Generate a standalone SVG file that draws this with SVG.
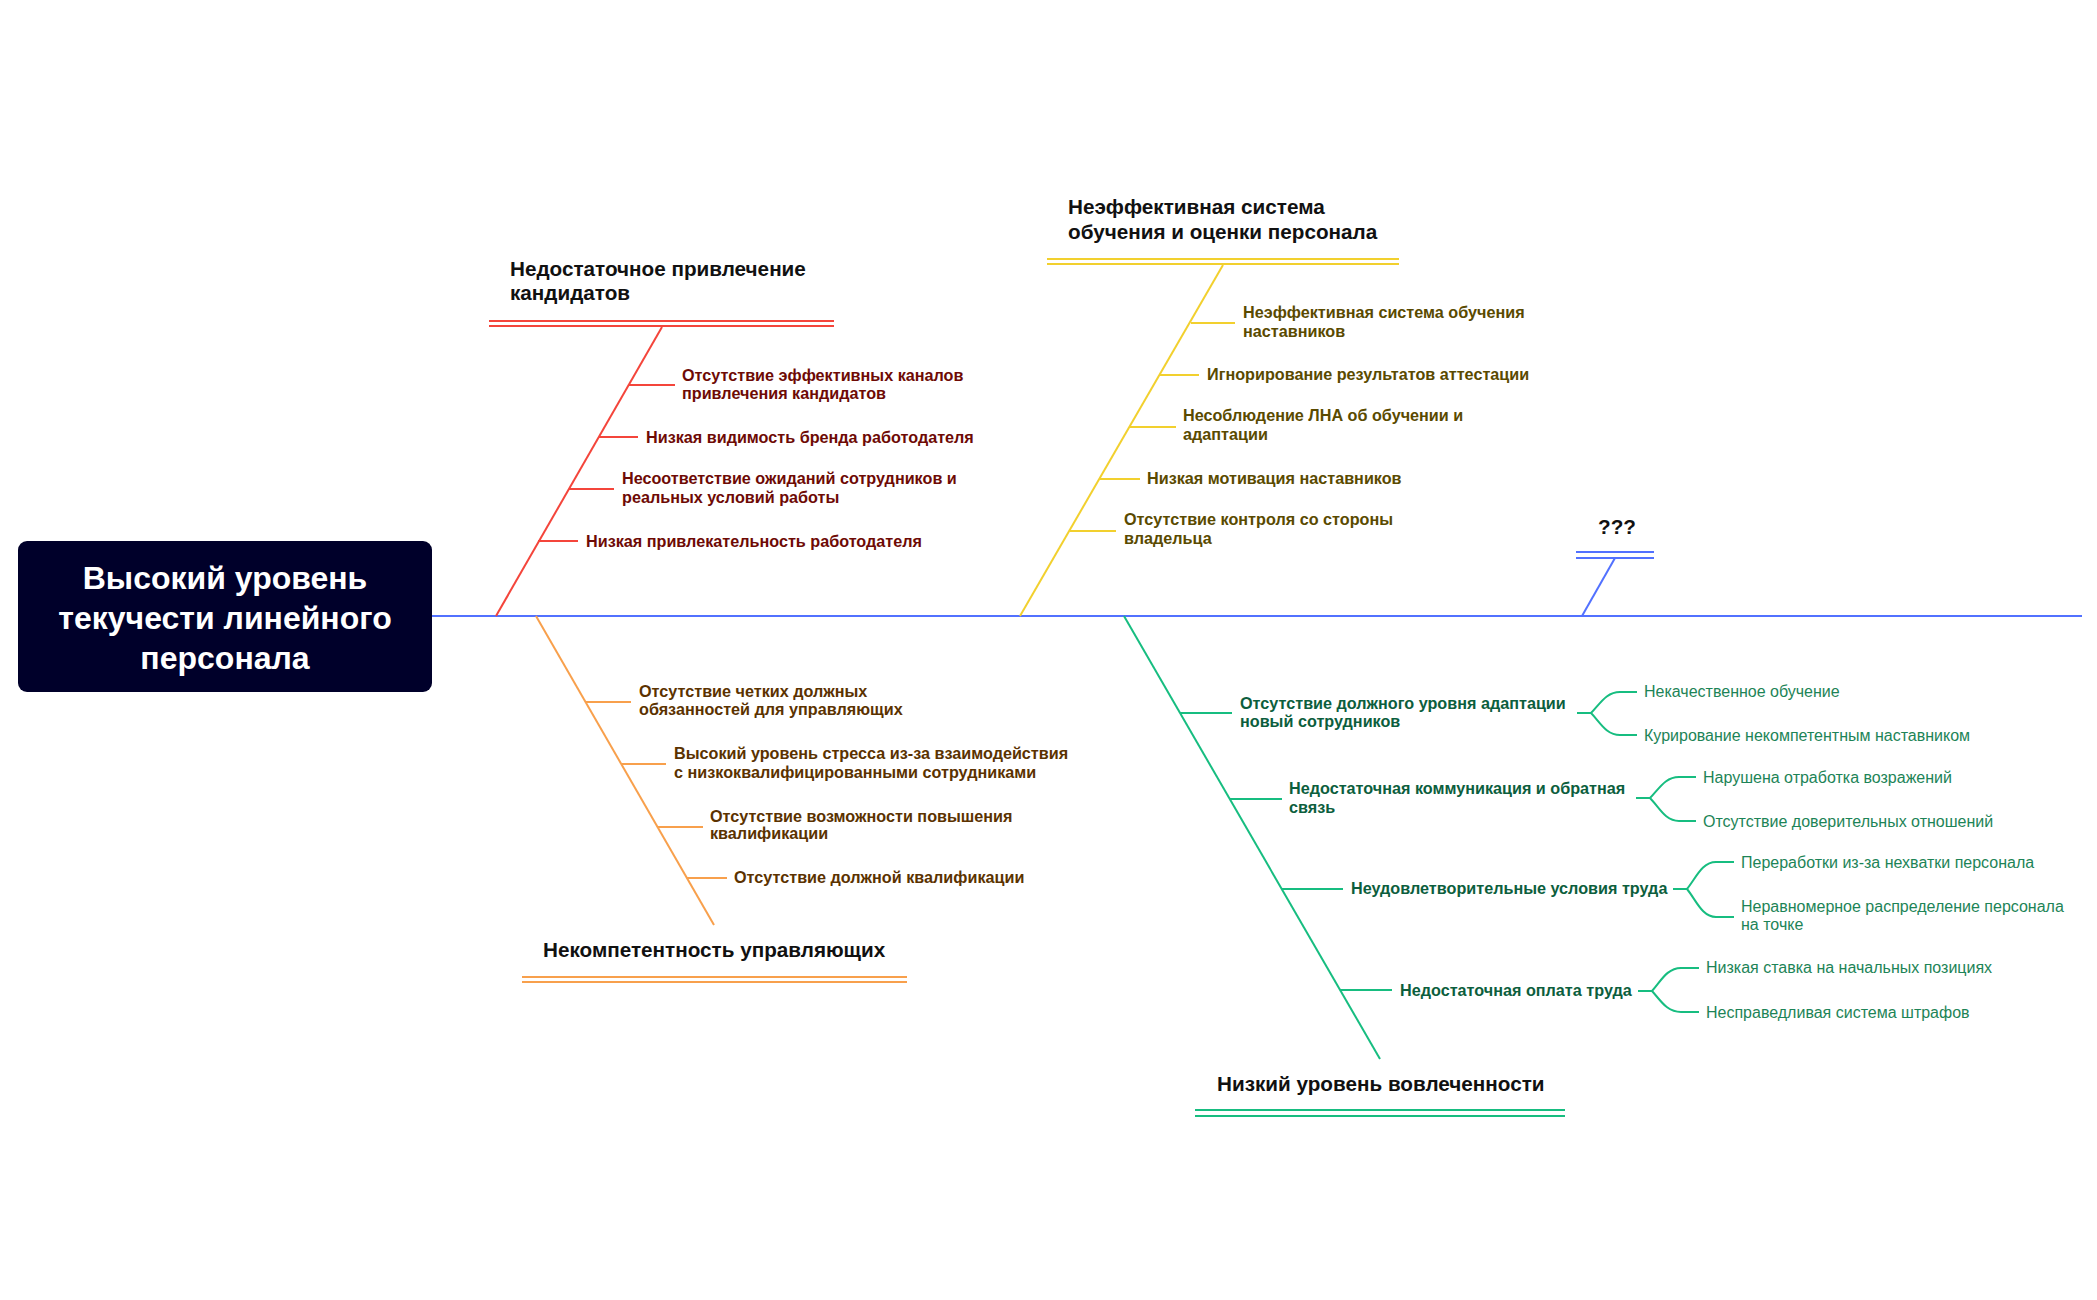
<svg xmlns="http://www.w3.org/2000/svg" width="2097" height="1300" viewBox="0 0 2097 1300">
<style>
text{font-family:"Liberation Sans",Arial,sans-serif}
.root{font-size:32px;font-weight:bold;fill:#fff;text-anchor:middle}
.title{font-size:20.7px;font-weight:bold;fill:#111}
.sub{font-size:16.2px;font-weight:bold}
.leaf{font-size:16px;fill:#1d8457}
.r{fill:#6e0a05}.y{fill:#5a4a00}.o{fill:#5b3200}.g{fill:#0c5e3d}
.ln{fill:none;stroke-width:2;stroke-linecap:butt}
.sr{stroke:#f4453b}.sy{stroke:#f2d02e}.so{stroke:#f8a04c}.sg{stroke:#17bd80}.sb{stroke:#5271ff}
</style>
<rect width="2097" height="1300" fill="#fff"/>
<g id="connectors">
<line class="ln sb" x1="432" y1="616" x2="2082" y2="616" stroke-width="3"/>
<!-- red -->
<line class="ln sr" x1="662" y1="327" x2="496" y2="616"/>
<line class="ln sr" x1="489" y1="321" x2="834" y2="321"/>
<line class="ln sr" x1="489" y1="326" x2="834" y2="326"/>
<line class="ln sr" x1="629" y1="385" x2="675" y2="385"/>
<line class="ln sr" x1="599" y1="437" x2="638" y2="437"/>
<line class="ln sr" x1="569" y1="489" x2="614" y2="489"/>
<line class="ln sr" x1="538" y1="541" x2="578" y2="541"/>
<!-- yellow -->
<line class="ln sy" x1="1223" y1="265" x2="1020" y2="616"/>
<line class="ln sy" x1="1047" y1="259" x2="1399" y2="259"/>
<line class="ln sy" x1="1047" y1="264" x2="1399" y2="264"/>
<line class="ln sy" x1="1191" y1="323" x2="1235" y2="323"/>
<line class="ln sy" x1="1160" y1="375" x2="1199" y2="375"/>
<line class="ln sy" x1="1130" y1="427" x2="1176" y2="427"/>
<line class="ln sy" x1="1100" y1="479" x2="1140" y2="479"/>
<line class="ln sy" x1="1070" y1="531" x2="1116" y2="531"/>
<!-- orange -->
<line class="ln so" x1="536" y1="616" x2="714" y2="925"/>
<line class="ln so" x1="522" y1="977" x2="907" y2="977"/>
<line class="ln so" x1="522" y1="982" x2="907" y2="982"/>
<line class="ln so" x1="586" y1="702" x2="631" y2="702"/>
<line class="ln so" x1="622" y1="764" x2="666" y2="764"/>
<line class="ln so" x1="657" y1="827" x2="703" y2="827"/>
<line class="ln so" x1="687" y1="878" x2="727" y2="878"/>
<!-- green -->
<line class="ln sg" x1="1124" y1="616" x2="1380" y2="1059"/>
<line class="ln sg" x1="1195" y1="1110" x2="1565" y2="1110"/>
<line class="ln sg" x1="1195" y1="1116" x2="1565" y2="1116"/>
<line class="ln sg" x1="1180" y1="713" x2="1232" y2="713"/>
<line class="ln sg" x1="1230" y1="799" x2="1282" y2="799"/>
<line class="ln sg" x1="1282" y1="889" x2="1343" y2="889"/>
<line class="ln sg" x1="1340" y1="990" x2="1392" y2="990"/>
<path class="ln sg" d="M1577,713 H1591" stroke-width="3"/>
<path class="ln sg" d="M1591,713 C1600,704 1606,692 1620,692 H1637 M1591,713 C1600,722 1606,735 1620,735 H1637"/>
<path class="ln sg" d="M1636,798 H1650" stroke-width="3"/>
<path class="ln sg" d="M1650,798 C1659,789 1665,777 1679,777 H1696 M1650,798 C1659,807 1665,821 1679,821 H1696"/>
<path class="ln sg" d="M1673,889 H1687" stroke-width="3"/>
<path class="ln sg" d="M1687,889 C1696,878 1702,862 1716,862 H1734 M1687,889 C1696,900 1702,917 1716,917 H1734"/>
<path class="ln sg" d="M1638,991 H1652" stroke-width="3"/>
<path class="ln sg" d="M1652,991 C1661,981 1667,968 1681,968 H1699 M1652,991 C1661,1001 1667,1012 1681,1012 H1699"/>
<!-- blue -->
<line class="ln sb" x1="1615" y1="558" x2="1582" y2="616"/>
<line class="ln sb" x1="1576" y1="552" x2="1654" y2="552"/>
<line class="ln sb" x1="1576" y1="558" x2="1654" y2="558"/>
</g>
<g id="root">
<rect x="18" y="541" width="414" height="151" rx="9" fill="#00002a"/>
<text class="root" x="225" y="589">Высокий уровень</text>
<text class="root" x="225" y="629">текучести линейного</text>
<text class="root" x="225" y="669">персонала</text>
</g>
<g id="cat-attraction">
<text class="title" x="510" y="276">Недостаточное привлечение</text>
<text class="title" x="510" y="300">кандидатов</text>
</g>
<g id="r1"><text class="sub r" x="682" y="381">Отсутствие эффективных каналов</text><text class="sub r" x="682" y="399">привлечения кандидатов</text></g>
<g id="r2"><text class="sub r" x="646" y="443">Низкая видимость бренда работодателя</text></g>
<g id="r3"><text class="sub r" x="622" y="484">Несоответствие ожиданий сотрудников и</text><text class="sub r" x="622" y="503">реальных условий работы</text></g>
<g id="r4"><text class="sub r" x="586" y="547">Низкая привлекательность работодателя</text></g>
<g id="cat-training">
<text class="title" x="1068" y="214">Неэффективная система</text>
<text class="title" x="1068" y="239">обучения и оценки персонала</text>
</g>
<g id="y1"><text class="sub y" x="1243" y="318">Неэффективная система обучения</text><text class="sub y" x="1243" y="337">наставников</text></g>
<g id="y2"><text class="sub y" x="1207" y="380">Игнорирование результатов аттестации</text></g>
<g id="y3"><text class="sub y" x="1183" y="421">Несоблюдение ЛНА об обучении и</text><text class="sub y" x="1183" y="440">адаптации</text></g>
<g id="y4"><text class="sub y" x="1147" y="484">Низкая мотивация наставников</text></g>
<g id="y5"><text class="sub y" x="1124" y="525">Отсутствие контроля со стороны</text><text class="sub y" x="1124" y="544">владельца</text></g>
<g id="cat-unknown"><text class="title" x="1598" y="534">???</text></g>
<g id="cat-managers"><text class="title" x="543" y="957">Некомпетентность управляющих</text></g>
<g id="o1"><text class="sub o" x="639" y="697">Отсутствие четких должных</text><text class="sub o" x="639" y="715">обязанностей для управляющих</text></g>
<g id="o2"><text class="sub o" x="674" y="759">Высокий уровень стресса из-за взаимодействия</text><text class="sub o" x="674" y="778">с низкоквалифицированными сотрудниками</text></g>
<g id="o3"><text class="sub o" x="710" y="822">Отсутствие возможности повышения</text><text class="sub o" x="710" y="839">квалификации</text></g>
<g id="o4"><text class="sub o" x="734" y="883">Отсутствие должной квалификации</text></g>
<g id="cat-engagement"><text class="title" x="1217" y="1091">Низкий уровень вовлеченности</text></g>
<g id="g1"><text class="sub g" x="1240" y="709">Отсутствие должного уровня адаптации</text><text class="sub g" x="1240" y="727">новый сотрудников</text></g>
<g id="g2"><text class="sub g" x="1289" y="794">Недостаточная коммуникация и обратная</text><text class="sub g" x="1289" y="813">связь</text></g>
<g id="g3"><text class="sub g" x="1351" y="894">Неудовлетворительные условия труда</text></g>
<g id="g4"><text class="sub g" x="1400" y="996">Недостаточная оплата труда</text></g>
<g id="g1a"><text class="leaf" x="1644" y="697">Некачественное обучение</text></g>
<g id="g1b"><text class="leaf" x="1644" y="741">Курирование некомпетентным наставником</text></g>
<g id="g2a"><text class="leaf" x="1703" y="783">Нарушена отработка возражений</text></g>
<g id="g2b"><text class="leaf" x="1703" y="827">Отсутствие доверительных отношений</text></g>
<g id="g3a"><text class="leaf" x="1741" y="868">Переработки из-за нехватки персонала</text></g>
<g id="g3b"><text class="leaf" x="1741" y="912">Неравномерное распределение персонала</text><text class="leaf" x="1741" y="930">на точке</text></g>
<g id="g4a"><text class="leaf" x="1706" y="973">Низкая ставка на начальных позициях</text></g>
<g id="g4b"><text class="leaf" x="1706" y="1018">Несправедливая система штрафов</text></g>
</svg>
